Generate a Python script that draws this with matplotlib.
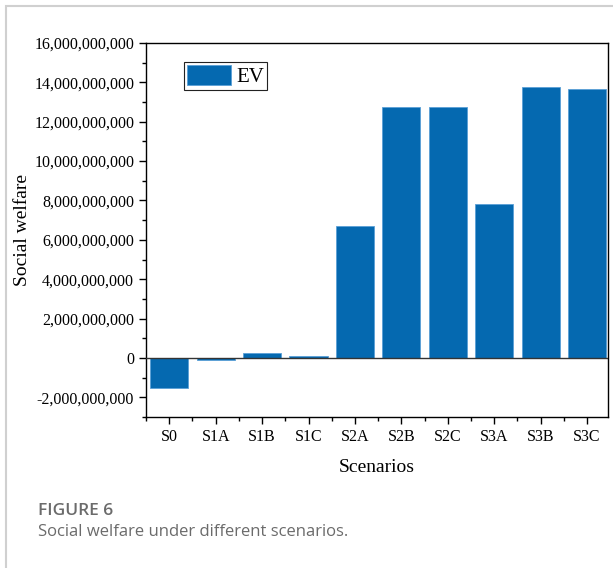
import matplotlib
matplotlib.use("Agg")
import matplotlib.pyplot as plt
from matplotlib.patches import Rectangle
from matplotlib.ticker import FuncFormatter, MultipleLocator

# social welfare (EV) per scenario
scenarios = ["S0", "S1A", "S1B", "S1C", "S2A", "S2B", "S2C", "S3A", "S3B", "S3C"]
welfare = [-1.53e9, -0.10e9, 0.27e9, 0.10e9, 6.68e9,
           12.76e9, 12.73e9, 7.80e9, 13.78e9, 13.67e9]

bar_color = "#0569b0"
serif = ["Liberation Serif", "DejaVu Serif"]

fig = plt.figure(figsize=(6.13, 5.68), dpi=100)
ax = fig.add_axes([146 / 613, 1 - 417 / 568, (608 - 146) / 613, (417 - 43) / 568])

x = list(range(len(scenarios)))
ax.bar(x, welfare, width=0.82, color=bar_color, edgecolor="#5a9fd6",
       linewidth=0.6, label="EV", zorder=2)
ax.axhline(0, color="#333333", linewidth=1.0, zorder=3)

ax.set_xlim(-0.5, 9.45)
ax.set_ylim(-3e9, 16e9)
ax.set_xticks(x)
ax.set_xticklabels(scenarios)
ax.xaxis.set_minor_locator(MultipleLocator(1, offset=0.5))
ax.yaxis.set_major_locator(MultipleLocator(2e9))
ax.yaxis.set_minor_locator(MultipleLocator(1e9))
ax.yaxis.set_major_formatter(FuncFormatter(lambda v, p: f"{v:,.0f}"))

ax.tick_params(which="major", direction="out", length=5, width=1.0)
ax.tick_params(which="minor", direction="out", length=3, width=1.0)
ax.tick_params(axis="both", labelsize=11.5)
for lbl in ax.get_xticklabels() + ax.get_yticklabels():
    lbl.set_family(serif)
for sp in ax.spines.values():
    sp.set_linewidth(1.0)

ax.set_xlabel("Scenarios", family=serif, fontsize=14, labelpad=10)
ax.set_ylabel("Social welfare", family=serif, fontsize=14, labelpad=2)

leg = ax.legend(loc="upper left", bbox_to_anchor=(0.06, 0.978), prop={"family": serif, "size": 15},
                fancybox=False, edgecolor="#222222", framealpha=1, handlelength=2.1,
                handleheight=1.1, borderpad=0.15, handletextpad=0.25)
leg.get_frame().set_linewidth(0.8)

# card border and caption
fig.patches.append(Rectangle((6 / 613, -0.1), 1.2, 1 - 6 / 568 + 0.1, transform=fig.transFigure,
                             fill=False, edgecolor="#d0d0d0", linewidth=1.5))
fig.text(38 / 613, 1 - 511 / 568, "FIGURE 6", family="Open Sans", fontweight="semibold",
         fontsize=12.5, color="#6b6b6b", va="center")
fig.text(38 / 613, 1 - 532 / 568, "Social welfare under different scenarios.", family="Open Sans",
         fontsize=12, color="#6b6b6b", va="center")

fig.savefig("out.png", dpi=100)
